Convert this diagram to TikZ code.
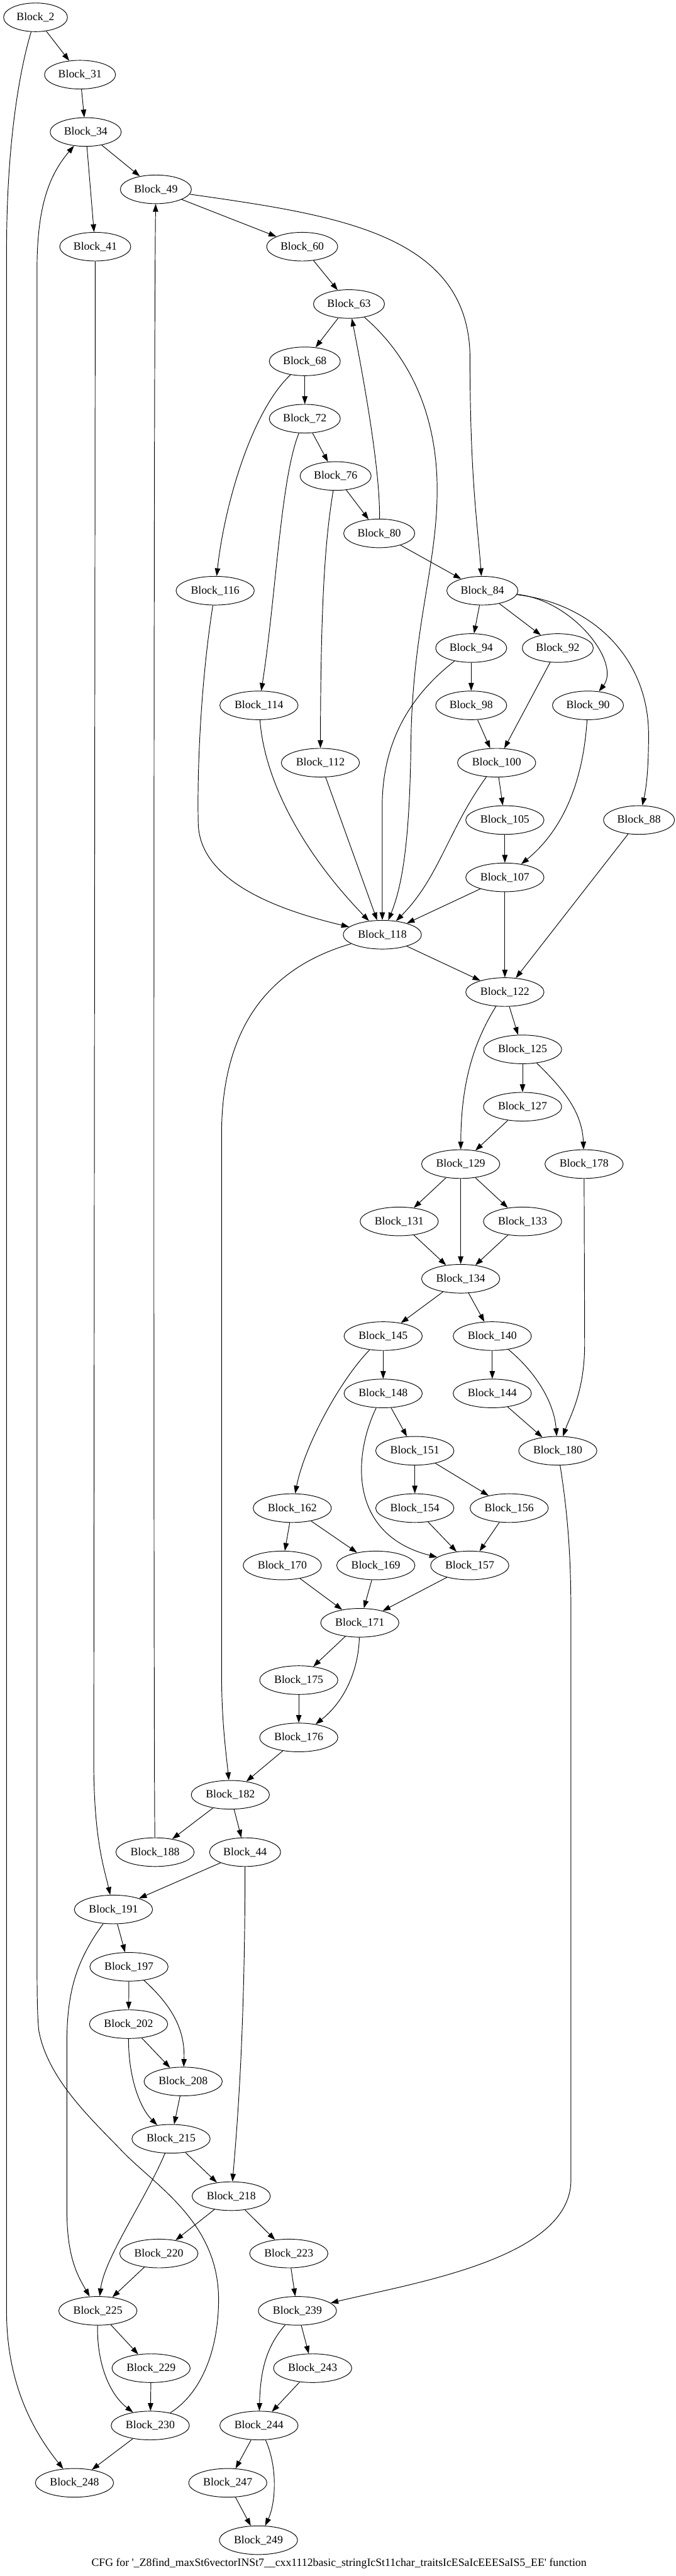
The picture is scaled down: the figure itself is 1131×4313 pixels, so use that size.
\documentclass[tikz,border=0pt]{standalone}
\usepackage{fontspec}
\setmainfont{Liberation Serif}
\usetikzlibrary{shapes.geometric,arrows.meta}
\begin{document}
\begin{tikzpicture}[x=1pt,y=-1pt,
  blk/.style={ellipse,draw,line width=1pt,minimum height=48pt,inner sep=0pt,font=\fontsize{18.7}{22}\selectfont},
  wa/.style={minimum width=107pt},
  wb/.style={minimum width=119pt},
  wc/.style={minimum width=131pt},
  e/.style={line width=1pt,-{Triangle[length=13pt,width=9pt]}}]
\fill[white] (0,0) rectangle (1131,4313);
\useasboundingbox (0,0) rectangle (1131,4313);
% nodes
\node[blk,wa] (b2) at (59.5,29) {Block\_2};
\node[blk,wb] (b31) at (134,125) {Block\_31};
\node[blk,wb] (b34) at (143.5,221) {Block\_34};
\node[blk,wb] (b49) at (261,317) {Block\_49};
\node[blk,wb] (b41) at (159.5,413) {Block\_41};
\node[blk,wb] (b60) at (506,413) {Block\_60};
\node[blk,wb] (b63) at (584.4,509) {Block\_63};
\node[blk,wb] (b68) at (510.4,605) {Block\_68};
\node[blk,wb] (b72) at (510.4,701) {Block\_72};
\node[blk,wb] (b76) at (562,797) {Block\_76};
\node[blk,wb] (b80) at (635,893) {Block\_80};
\node[blk,wc] (b116) at (360.3,989) {Block\_116};
\node[blk,wb] (b84) at (807.7,989) {Block\_84};
\node[blk,wb] (b94) at (789,1085) {Block\_94};
\node[blk,wb] (b92) at (934,1085) {Block\_92};
\node[blk,wc] (b114) at (433.6,1181) {Block\_114};
\node[blk,wb] (b98) at (789,1181) {Block\_98};
\node[blk,wb] (b90) at (984.6,1181) {Block\_90};
\node[blk,wc] (b112) at (536.5,1277) {Block\_112};
\node[blk,wc] (b100) at (831.6,1277) {Block\_100};
\node[blk,wc] (b105) at (845.4,1373) {Block\_105};
\node[blk,wb] (b88) at (1070,1373) {Block\_88};
\node[blk,wc] (b107) at (845.4,1469) {Block\_107};
\node[blk,wc] (b118) at (640.2,1565) {Block\_118};
\node[blk,wc] (b122) at (845.4,1661) {Block\_122};
\node[blk,wc] (b125) at (875,1757) {Block\_125};
\node[blk,wc] (b127) at (875,1853) {Block\_127};
\node[blk,wc] (b129) at (771.4,1949) {Block\_129};
\node[blk,wc] (b178) at (978,1949) {Block\_178};
\node[blk,wc] (b131) at (668.5,2045) {Block\_131};
\node[blk,wc] (b133) at (875,2045) {Block\_133};
\node[blk,wc] (b134) at (771.4,2141) {Block\_134};
\node[blk,wc] (b145) at (641.6,2237) {Block\_145};
\node[blk,wc] (b140) at (824.3,2237) {Block\_140};
\node[blk,wc] (b148) at (641.6,2333) {Block\_148};
\node[blk,wc] (b144) at (824.3,2333) {Block\_144};
\node[blk,wc] (b151) at (694.6,2429) {Block\_151};
\node[blk,wc] (b180) at (934,2429) {Block\_180};
\node[blk,wc] (b162) at (489.4,2525) {Block\_162};
\node[blk,wc] (b154) at (694.6,2525) {Block\_154};
\node[blk,wc] (b156) at (852.6,2525) {Block\_156};
\node[blk,wc] (b170) at (472.7,2621) {Block\_170};
\node[blk,wc] (b169) at (629.3,2621) {Block\_169};
\node[blk,wc] (b157) at (786.6,2621) {Block\_157};
\node[blk,wc] (b171) at (602.5,2717) {Block\_171};
\node[blk,wc] (b175) at (500.3,2813) {Block\_175};
\node[blk,wc] (b176) at (500.3,2909) {Block\_176};
\node[blk,wc] (b182) at (385.7,3005) {Block\_182};
\node[blk,wc] (b188) at (259.6,3101) {Block\_188};
\node[blk,wb] (b44) at (410.4,3101) {Block\_44};
\node[blk,wc] (b191) at (190,3197) {Block\_191};
\node[blk,wc] (b197) at (216,3293) {Block\_197};
\node[blk,wc] (b202) at (215.3,3389) {Block\_202};
\node[blk,wc] (b208) at (306.7,3485) {Block\_208};
\node[blk,wc] (b215) at (286.4,3581) {Block\_215};
\node[blk,wc] (b218) at (387.2,3677) {Block\_218};
\node[blk,wc] (b220) at (266,3773) {Block\_220};
\node[blk,wc] (b223) at (483.6,3773) {Block\_223};
\node[blk,wc] (b225) at (163.9,3869) {Block\_225};
\node[blk,wc] (b239) at (498,3869) {Block\_239};
\node[blk,wc] (b229) at (253,3965) {Block\_229};
\node[blk,wc] (b243) at (523.5,3965) {Block\_243};
\node[blk,wc] (b230) at (251.6,4061) {Block\_230};
\node[blk,wc] (b244) at (433.6,4061) {Block\_244};
\node[blk,wc] (b248) at (124.7,4157) {Block\_248};
\node[blk,wc] (b247) at (381.4,4157) {Block\_247};
\node[blk,wc] (b249) at (432.8,4253) {Block\_249};
\node[font=\fontsize{18.7}{22}\selectfont,inner sep=0pt] (title) at (567.7,4292) {CFG for \textquotesingle\_Z8find\_maxSt6vectorINSt7\_\_cxx1112basic\_stringIcSt11char\_traitsIcESaIcEEESaIS5\_EE\textquotesingle{} function};
% straight edges
\foreach \a/\b in {b2/b31,b31/b34,b34/b41,b34/b49,b49/b60,b60/b63,b63/b68,b68/b72,b72/b76,b76/b80,b80/b84,
  b84/b94,b84/b92,b94/b98,b98/b100,b92/b100,b100/b105,b105/b107,b107/b122,b107/b118,b112/b118,b88/b122,b118/b122,
  b122/b125,b125/b127,b127/b129,b129/b131,b129/b134,b129/b133,b131/b134,b133/b134,b134/b145,b134/b140,
  b145/b148,b140/b144,b148/b151,b144/b180,b151/b154,b151/b156,b162/b170,b162/b169,b154/b157,b156/b157,
  b170/b171,b169/b171,b157/b171,b171/b175,b175/b176,b176/b182,b182/b188,b182/b44,b44/b191,b191/b197,
  b197/b202,b202/b208,b208/b215,b215/b218,b218/b220,b218/b223,b220/b225,b223/b239,b225/b229,b229/b230,
  b230/b248,b239/b243,b243/b244,b244/b247,b247/b249}
  \draw[e] (\a) -- (\b);
% curved edges
\draw[e] (b2) .. controls (35,110) and (11,230) .. (11,420) -- (11,3870) .. controls (11,3990) and (55,4070) .. (b248);
\draw[e] (b230) .. controls (340,4005) and (366,3930) .. (366,3850) .. controls (366,3720) and (260,3660) .. (203,3600)
  .. controls (150,3545) and (80,3480) .. (65,3400) .. controls (62,3370) and (62,3330) .. (62,3250) -- (62,450)
  .. controls (62,340) and (85,290) .. (b34);
\draw[e] (b188) .. controls (257,2900) and (257,600) .. (b49);
\draw[e] (b80) .. controls (637,790) and (610,640) .. (b63);
\draw[e] (b49) .. controls (560,360) and (787,390) .. (787,600) .. controls (787,800) and (800,880) .. (b84);
\draw[e] (b41) -- (157,2950) .. controls (157,3080) and (175,3130) .. (b191);
\draw[e] (b63) .. controls (690,600) and (732,700) .. (732,820) .. controls (732,950) and (690,1050) .. (688,1250)
  .. controls (686,1400) and (675,1480) .. (b118);
\draw[e] (b68) .. controls (420,690) and (375,850) .. (b116);
\draw[e] (b72) .. controls (470,800) and (462,1000) .. (b114);
\draw[e] (b76) .. controls (545,900) and (537,1000) .. (b112);
\draw[e] (b84) .. controls (960,1005) and (1040,1110) .. (b90);
\draw[e] (b84) .. controls (990,1010) and (1086,1100) .. (1086,1230) .. controls (1086,1290) and (1082,1320) .. (b88);
\draw[e] (b94) .. controls (680,1170) and (640,1250) .. (640,1350) -- (b118);
\draw[e] (b100) .. controls (750,1390) and (735,1470) .. (b118);
\draw[e] (b116) .. controls (335,1150) and (330,1300) .. (332,1380) .. controls (335,1470) and (450,1520) .. (b118);
\draw[e] (b114) .. controls (442,1300) and (500,1420) .. (b118);
\draw[e] (b90) .. controls (975,1330) and (930,1400) .. (b107);
\draw[e] (b118) .. controls (450,1620) and (371,1720) .. (371,1900) -- (371,2800) .. controls (371,2880) and (378,2930) .. (b182);
\draw[e] (b122) .. controls (790,1750) and (772,1820) .. (b129);
\draw[e] (b125) .. controls (940,1820) and (975,1860) .. (b178);
\draw[e] (b178) -- (979,2250) .. controls (979,2330) and (955,2370) .. (b180);
\draw[e] (b145) .. controls (570,2310) and (510,2420) .. (b162);
\draw[e] (b140) .. controls (900,2300) and (928,2350) .. (b180);
\draw[e] (b148) .. controls (590,2440) and (585,2570) .. (b157);
\draw[e] (b180) .. controls (950,2530) and (956,2600) .. (956,2700) -- (956,3650) .. controls (956,3780) and (700,3821) .. (b239);
\draw[e] (b171) .. controls (600,2800) and (575,2850) .. (b176);
\draw[e] (b191) .. controls (130,3280) and (112,3330) .. (112,3420) -- (112,3700) .. controls (112,3780) and (130,3810) .. (b225);
\draw[e] (b197) .. controls (290,3360) and (310,3400) .. (b208);
\draw[e] (b202) .. controls (215,3480) and (235,3530) .. (b215);
\draw[e] (b215) .. controls (245,3680) and (175,3780) .. (b225);
\draw[e] (b225) .. controls (162,3960) and (185,4010) .. (b230);
\draw[e] (b239) .. controls (445,3930) and (436,3970) .. (b244);
\draw[e] (b244) .. controls (465,4130) and (462,4190) .. (b249);
\draw[e] (b44) .. controls (410,3400) and (398,3550) .. (b218);
\end{tikzpicture}
\end{document}
